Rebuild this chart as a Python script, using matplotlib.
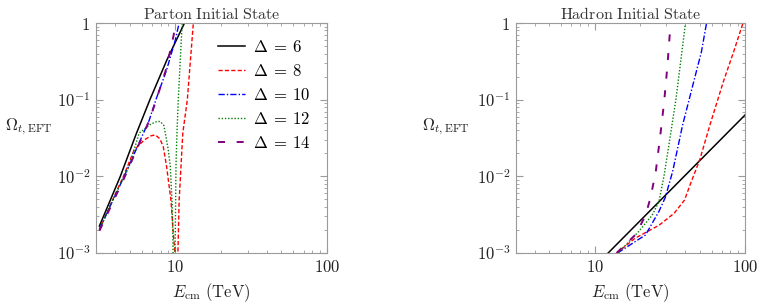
import matplotlib
matplotlib.use("Agg")
import matplotlib.pyplot as plt
from matplotlib.ticker import LogLocator, NullFormatter

plt.rcParams['mathtext.fontset'] = 'cm'
plt.rcParams['font.family'] = ['DejaVu Serif']

labels = [r'$\Delta\:=\:6$', r'$\Delta\:=\:8$', r'$\Delta\:=\:10$', r'$\Delta\:=\:12$', r'$\Delta\:=\:14$']
colors = ['black', 'red', 'blue', 'green', 'purple']

# ---- Parton initial state ----
p6_E = [3.16, 4.34, 5.5, 6.8, 8.8, 11.5]
p6_O = [2.25e-3, 1.0e-2, 0.035, 0.1, 0.33, 1.0]

p8_E = [3.16, 3.8, 4.55, 5.35, 6.24, 6.9, 7.37, 7.9, 8.33, 8.76, 9.36, 9.7, 9.95, 10.15,
        10.2, 10.4, 10.6, 10.9, 11.2, 12.0, 13.15]
p8_O = [2.0e-3, 4.6e-3, 1.0e-2, 0.022, 0.0298, 0.0337, 0.0347, 0.031, 0.0244, 0.0134, 4.9e-3, 1.8e-3, 1.0e-3, 1e-4,
        1e-4, 1.0e-3, 4.9e-3, 0.0134, 0.0365, 0.1, 1.0]

p10_E = [3.16, 4.6, 6.73, 7.45, 8.76, 10.0, 10.6]
p10_O = [2.05e-3, 1.0e-2, 0.054, 0.1, 0.244, 0.6, 1.0]

p12_E = [3.16, 3.8, 4.6, 4.96, 5.77, 6.9, 7.5, 7.96, 8.4, 8.6, 8.99, 9.27, 9.5, 9.65, 9.7,
         9.75, 10.0, 10.1, 10.25, 10.46, 10.8, 11.1]
p12_O = [2.0e-3, 4.6e-3, 1.0e-2, 0.0135, 0.0365, 0.048, 0.0515, 0.052, 0.046, 0.0365, 0.022, 0.0134, 4.9e-3, 1.5e-3, 1e-4,
         1e-4, 1.8e-3, 0.0134, 0.0365, 0.1, 0.35, 1.0]

p14_E = [3.16, 4.6, 6.7, 7.5, 8.7, 9.7, 10.1]
p14_O = [1.95e-3, 9.5e-3, 0.052, 0.1, 0.25, 0.66, 1.0]

# ---- Hadron initial state ----
h6_E = [12.3, 100.0]
h6_O = [1.0e-3, 0.063]

h8_E = [14.0, 18.6, 26.8, 33.8, 39.6, 43.9, 50.0, 58.5, 71.8, 84.0, 97.0]
h8_O = [1.0e-3, 1.56e-3, 2.3e-3, 3.3e-3, 4.9e-3, 8.5e-3, 0.0164, 0.047, 0.172, 0.42, 1.0]

h10_E = [14.2, 21.8, 26.8, 29.5, 33.0, 38.5, 45.0, 51.3, 55.5]
h10_O = [1.0e-3, 1.72e-3, 3.5e-3, 5.3e-3, 0.0115, 0.047, 0.155, 0.42, 1.0]

h12_E = [14.3, 19.6, 24.1, 26.8, 29.0, 31.4, 34.8, 37.6, 40.2]
h12_O = [1.0e-3, 1.9e-3, 3.1e-3, 4.7e-3, 0.0104, 0.028, 0.104, 0.35, 1.0]

h14_E = [14.0, 18.8, 21.8, 23.5, 25.5, 27.2, 29.0, 30.5, 32.0]
h14_O = [1.0e-3, 1.75e-3, 3.1e-3, 5.2e-3, 0.0115, 0.0315, 0.094, 0.28, 1.0]

parton = [(p6_E, p6_O), (p8_E, p8_O), (p10_E, p10_O), (p12_E, p12_O), (p14_E, p14_O)]
hadron = [(h6_E, h6_O), (h8_E, h8_O), (h10_E, h10_O), (h12_E, h12_O), (h14_E, h14_O)]

styles = [
    dict(linestyle='-', lw=1.1),
    dict(dashes=(3.0, 1.6), lw=1.0),
    dict(dashes=(4.5, 1.5, 1.0, 1.5), lw=1.0),
    dict(dashes=(1.0, 1.3), lw=1.0),
    dict(dashes=(3.6, 6.0), lw=1.4),
]

fig = plt.figure(figsize=(7.62, 3.08), dpi=100)
ax1 = fig.add_axes([96 / 762, 55 / 308, 231 / 762, 230 / 308])
ax2 = fig.add_axes([516 / 762, 55 / 308, 229 / 762, 230 / 308])

frame = '#9a9a9a'
for ax, data, title, ylx in [(ax1, parton, r'$\mathrm{Parton\ Initial\ State}$', -0.29),
                             (ax2, hadron, r'$\mathrm{Hadron\ Initial\ State}$', -0.305)]:
    for (E, O), c, st, lab in zip(data, colors, styles, labels):
        ax.plot(E, O, color=c, label=lab, **st)
    ax.set_xscale('log')
    ax.set_yscale('log')
    ax.set_xlim(3, 100)
    ax.set_ylim(1e-3, 1)
    ax.set_xticks([10, 100])
    ax.set_xticklabels([r'$10$', r'$100$'])
    ax.set_yticks([1e-3, 1e-2, 1e-1, 1])
    ax.set_yticklabels([r'$10^{-3}$', r'$10^{-2}$', r'$10^{-1}$', r'$1$'])
    ax.xaxis.set_minor_locator(LogLocator(base=10, subs=range(2, 10)))
    ax.yaxis.set_minor_locator(LogLocator(base=10, subs=range(2, 10)))
    ax.xaxis.set_minor_formatter(NullFormatter())
    ax.yaxis.set_minor_formatter(NullFormatter())
    ax.tick_params(which='both', direction='in', top=True, right=True, colors=frame,
                   labelcolor='#222222', labelsize=12)
    ax.tick_params(which='major', length=5, width=0.8, pad=4)
    ax.tick_params(which='minor', length=2.5, width=0.6)
    for s in ax.spines.values():
        s.set_color(frame)
        s.set_linewidth(0.8)
    ax.set_title(title, fontsize=11.5, pad=2, color='#333333')
    ax.set_xlabel(r'$E_{\mathrm{cm}}\ \mathrm{(TeV)}$', fontsize=12, labelpad=4, color='#222222')
    ax.set_ylabel(r'$\Omega_{t,\mathrm{EFT}}$', fontsize=12, rotation=0, color='#222222',
                  ha='center', va='center')
    ax.yaxis.set_label_coords(ylx, 0.55)

leg = ax1.legend(loc='upper right', bbox_to_anchor=(0.995, 0.995), frameon=False,
                 fontsize=12, handlelength=1.6, handletextpad=0.5, labelspacing=0.42)

fig.savefig('out.png', dpi=100)
